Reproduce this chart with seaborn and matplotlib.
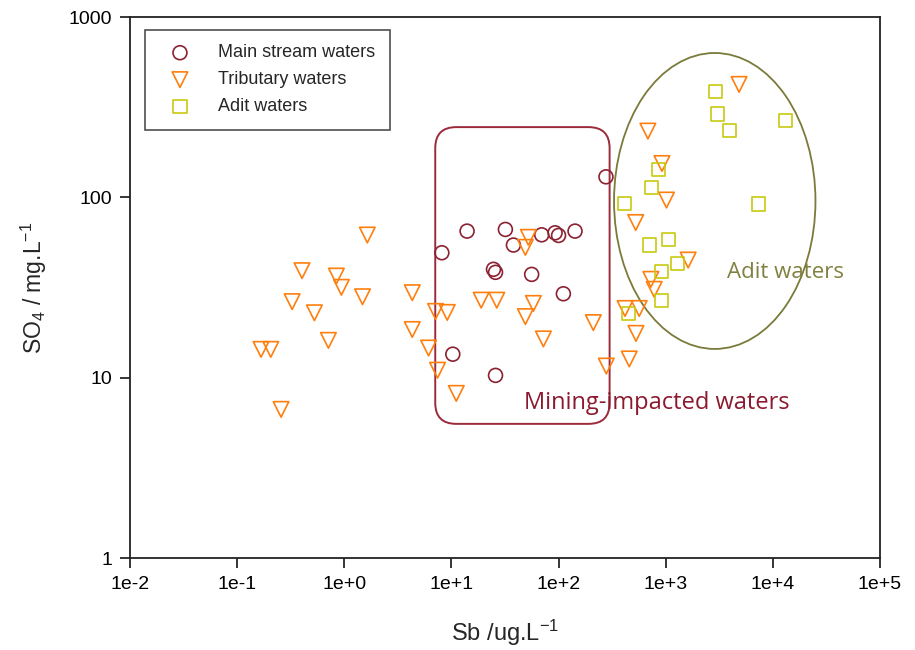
import matplotlib
matplotlib.use("Agg")
import matplotlib.pyplot as plt
import seaborn as sns
import pandas as pd
from matplotlib.patches import FancyBboxPatch, Ellipse

# ---------------- data ----------------
main_sb = [277, 14.0, 31.9, 37.9, 69.6, 92.8, 100, 142.5, 8.14, 24.7, 25.8, 56.1, 110.9, 10.3, 25.8]
main_so4 = [130, 65, 66.4, 54.4, 62.0, 63.6, 61.5, 65, 49.3, 39.9, 38.4, 37.4, 29.2, 13.5, 10.3]

trib_sb = [0.167, 0.206, 0.257, 0.326, 0.403, 0.526, 0.711, 0.844, 0.940, 1.48, 1.64,
           4.31, 4.31, 6.12, 7.11, 7.42, 9.14, 11.1, 18.95, 26.5, 49.0, 52.3, 49.0,
           58.2, 72.2, 211, 279, 417, 566, 528, 457, 525, 682, 923, 1017, 1621,
           727, 781, 4842]
trib_so4 = [14.35, 14.35, 6.67, 26.4, 39.2, 22.9, 16.1, 36.6, 31.7, 28.1, 61.8,
            29.6, 18.5, 14.6, 23.3, 11.0, 23.0, 8.18, 26.9, 26.9, 52.8, 60.0, 21.8,
            25.8, 16.4, 20.2, 11.6, 24.2, 24.2, 17.6, 12.7, 72.5, 233, 154, 96.6, 44.9,
            35.1, 30.9, 423]

adit_sb = [2937, 3039, 3964, 13080, 857, 738, 410, 7389, 706, 1071, 1299, 914, 922, 450]
adit_so4 = [387, 290, 234, 268, 143, 113, 92.6, 91.8, 54.4, 58.5, 43.0, 38.7, 26.9, 22.7]

series_names = ["Main stream waters", "Tributary waters", "Adit waters"]
x_ticks = [1e-2, 1e-1, 1e0, 1e1, 1e2, 1e3, 1e4, 1e5]
x_tick_labels = ["1e-2", "1e-1", "1e+0", "1e+1", "1e+2", "1e+3", "1e+4", "1e+5"]
y_ticks = [1, 10, 100, 1000]
y_tick_labels = ["1", "10", "100", "1000"]

df = pd.concat([
    pd.DataFrame({"Sb": main_sb, "SO4": main_so4, "group": series_names[0]}),
    pd.DataFrame({"Sb": trib_sb, "SO4": trib_so4, "group": series_names[1]}),
    pd.DataFrame({"Sb": adit_sb, "SO4": adit_so4, "group": series_names[2]}),
], ignore_index=True)

# ---------------- style ----------------
sns.set_style("ticks")
plt.rcParams["font.family"] = ["Liberation Sans", "DejaVu Sans"]
plt.rcParams["mathtext.fontset"] = "custom"
plt.rcParams["mathtext.rm"] = "Liberation Sans"
plt.rcParams["mathtext.it"] = "Liberation Sans:italic"

colors = {series_names[0]: "#8B2232", series_names[1]: "#FF7F0E", series_names[2]: "#C8C810"}
markers = {series_names[0]: "o", series_names[1]: "v", series_names[2]: "s"}
sizes = {series_names[0]: 100, series_names[1]: 125, series_names[2]: 90}

fig = plt.figure(figsize=(9.15, 6.5), dpi=100)
ax = fig.add_axes([0.1421, 0.1415, 0.8196, 0.8323])

for name in series_names:
    sub = df[df["group"] == name]
    sns.scatterplot(data=sub, x="Sb", y="SO4", ax=ax, marker=markers[name],
                    s=sizes[name], color=colors[name], facecolor="none",
                    edgecolor=colors[name], linewidth=1.2, label=name, zorder=3)

ax.set_xscale("log")
ax.set_yscale("log")
ax.set_xlim(1e-2, 1e5)
ax.set_ylim(1, 1000)
ax.set_xticks(x_ticks)
ax.set_xticklabels(x_tick_labels)
ax.set_yticks(y_ticks)
ax.set_yticklabels(y_tick_labels)
ax.minorticks_off()
ax.tick_params(axis="both", which="major", direction="out", length=7, width=1.1,
               labelsize=14, colors="black", pad=6)
ax.tick_params(top=False, right=False)
for sp in ax.spines.values():
    sp.set_visible(True)
    sp.set_linewidth(1.3)
    sp.set_color("#222222")

ax.set_xlabel("Sb /ug.L$^{-1}$", fontsize=17, labelpad=18)
ax.set_ylabel("SO$_4$ / mg.L$^{-1}$", fontsize=16.5, labelpad=14)

# annotation shapes (axes fraction)
W = 0.8196 * 915
H = 0.8323 * 650
rect = FancyBboxPatch((0.407, 0.248), 0.2325, 0.5485,
                      boxstyle="round,pad=0,rounding_size=0.028",
                      mutation_aspect=W / H, transform=ax.transAxes,
                      fill=False, edgecolor="#9B2A3A", linewidth=1.4, zorder=2)
ax.add_patch(rect)
ell = Ellipse((0.7797, 0.660), 0.2686, 0.547, transform=ax.transAxes,
              fill=False, edgecolor="#7A7A3A", linewidth=1.3, zorder=2)
ax.add_patch(ell)

ax.text(0.7024, 0.287, "Mining-impacted waters", transform=ax.transAxes,
        ha="center", va="center", fontsize=17, color="#8B1A2E",
        family=["Open Sans", "DejaVu Sans"])
ax.text(0.874, 0.527, "Adit waters", transform=ax.transAxes,
        ha="center", va="center", fontsize=16, color="#808040",
        family=["Open Sans", "DejaVu Sans"])

leg = ax.legend(loc="upper left", bbox_to_anchor=(0.02, 0.976), borderaxespad=0,
                fontsize=13, frameon=True, fancybox=False, edgecolor="#222222",
                borderpad=0.8, handlelength=2.27, handletextpad=0.98, labelspacing=0.55)
leg.get_frame().set_linewidth(1.2)

fig.savefig("out.png", dpi=100)
